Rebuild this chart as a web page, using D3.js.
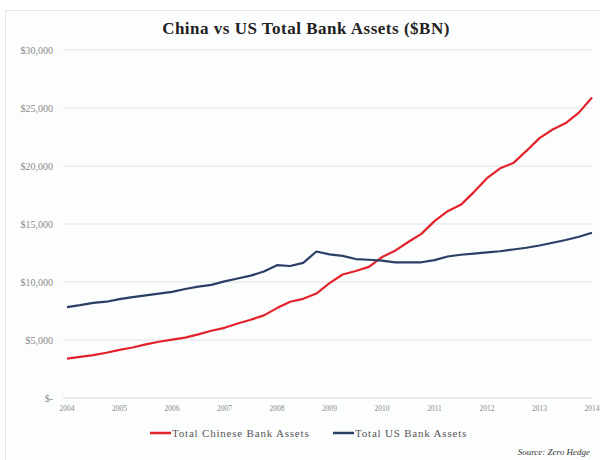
<!DOCTYPE html>
<html>
<head>
<meta charset="utf-8">
<script src="https://cdn.jsdelivr.net/npm/d3@7"></script>
<style>
  body { margin: 0; background: #fff; }
  svg { display: block; }
</style>
</head>
<body>
<div id="chart"></div>
<script>
// quarterly values, 2004 Q1 .. 2014 Q1
const years = ["2004", "2005", "2006", "2007", "2008", "2009", "2010", "2011", "2012", "2013", "2014"];
const chinaAssets = [3400, 3550, 3690, 3900, 4150, 4350, 4620, 4850, 5030, 5200, 5480, 5800, 6050, 6420, 6750, 7120,
  7750, 8300, 8550, 9000, 9900, 10650, 10950, 11300, 12150, 12700, 13450, 14150, 15250, 16100, 16650, 17750,
  18950, 19800, 20250, 21300, 22400, 23150, 23700, 24600, 25900];
const usAssets = [7830, 8000, 8200, 8300, 8520, 8690, 8850, 9000, 9150, 9400, 9600, 9750, 10050, 10300, 10550, 10900,
  11450, 11380, 11650, 12630, 12380, 12250, 11980, 11920, 11850, 11690, 11700, 11700, 11890, 12200, 12350, 12450,
  12550, 12650, 12800, 12950, 13150, 13380, 13620, 13900, 14250];
const yTicks = [0, 5000, 10000, 15000, 20000, 25000, 30000];
const seriesNames = ["Total Chinese Bank Assets", "Total US Bank Assets"];
const seriesColors = ["#e3232b", "#2b3f66"];

const w = 600;
const h = 460;

const svg = d3.select("#chart").append("svg")
  .attr("width", w)
  .attr("height", h);

// frame
svg.append("rect")
  .attr("x", 5.5).attr("y", 10.5)
  .attr("width", w).attr("height", h)
  .attr("fill", "#fcfdfd")
  .attr("stroke", "#e4e8ea");

svg.append("text")
  .attr("x", 306).attr("y", 34)
  .attr("text-anchor", "middle")
  .attr("font-family", "Liberation Serif, serif")
  .attr("font-weight", "bold")
  .attr("font-size", 17)
  .attr("letter-spacing", 0.5)
  .attr("fill", "#222")
  .text("China vs US Total Bank Assets ($BN)");

const x = d3.scaleLinear().domain([0, 40]).range([67, 592]);
const y = d3.scaleLinear().domain([0, 30000]).range([398, 50]);

// grid lines
svg.append("g")
  .selectAll("line")
  .data(yTicks)
  .enter()
  .append("line")
  .attr("x1", 63).attr("x2", 592)
  .attr("y1", d => y(d)).attr("y2", d => y(d))
  .attr("stroke", d => d === 0 ? "#d4d8da" : "#e2e4e6")
  .attr("stroke-width", 1.2);

// y labels
svg.append("g")
  .selectAll("text")
  .data(yTicks)
  .enter()
  .append("text")
  .attr("x", 53)
  .attr("y", d => y(d) + 3.5)
  .attr("text-anchor", "end")
  .attr("font-family", "Liberation Serif, serif")
  .attr("font-size", 10)
  .attr("fill", "#8a8a8a")
  .text(d => d === 0 ? "$-" : "$" + d3.format(",")(d));

// x labels
svg.append("g")
  .selectAll("text")
  .data(years)
  .enter()
  .append("text")
  .attr("x", (d, i) => x(i * 4))
  .attr("y", 411)
  .attr("text-anchor", "middle")
  .attr("font-family", "Liberation Serif, serif")
  .attr("font-size", 7.5)
  .attr("fill", "#8a8a8a")
  .text(d => d);

const line = d3.line()
  .x((d, i) => x(i))
  .y(d => y(d));

[chinaAssets, usAssets].forEach((s, k) => {
  svg.append("path")
    .datum(s)
    .attr("d", line)
    .attr("fill", "none")
    .attr("stroke", seriesColors[k])
    .attr("stroke-width", 2.2)
    .attr("stroke-linejoin", "round");
});

// legend
const legendX = [150, 333];
const legend = svg.append("g");
seriesNames.forEach((n, k) => {
  legend.append("line")
    .attr("x1", legendX[k]).attr("x2", legendX[k] + 21)
    .attr("y1", 433).attr("y2", 433)
    .attr("stroke", seriesColors[k])
    .attr("stroke-width", 2.5);
  legend.append("text")
    .attr("x", legendX[k] + 22)
    .attr("y", 436.5)
    .attr("font-family", "Liberation Serif, serif")
    .attr("font-size", 11)
    .attr("letter-spacing", 0.8)
    .attr("fill", "#555")
    .text(n);
});

svg.append("text")
  .attr("x", 590).attr("y", 455)
  .attr("text-anchor", "end")
  .attr("font-family", "Liberation Serif, serif")
  .attr("font-style", "italic")
  .attr("font-size", 9)
  .attr("fill", "#333")
  .text("Source: Zero Hedge");
</script>
</body>
</html>
